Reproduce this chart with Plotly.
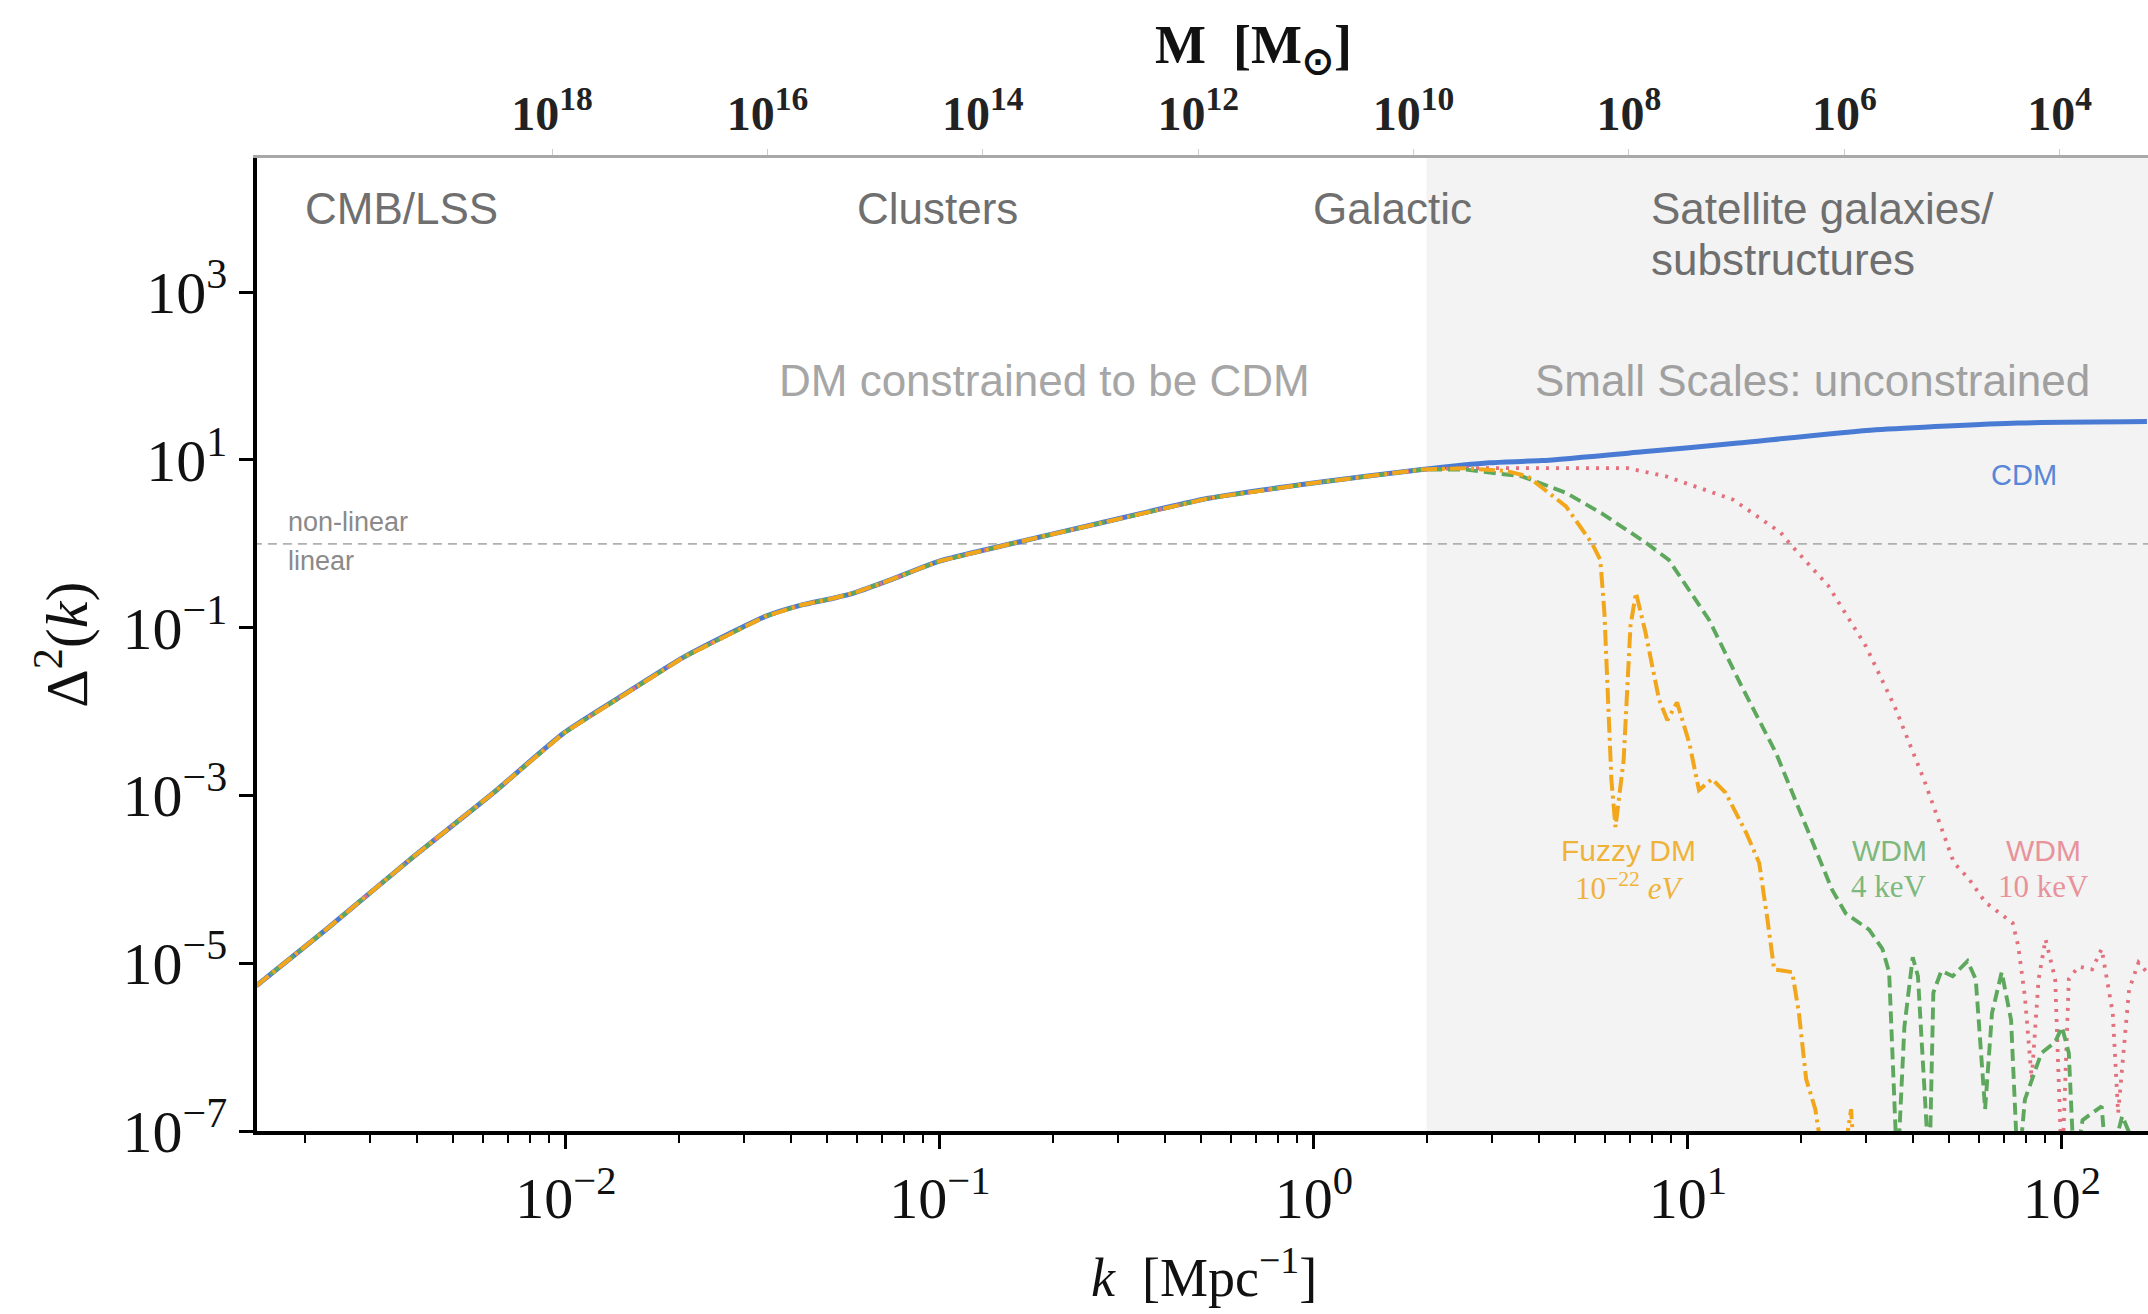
import numpy as np
import plotly.graph_objects as go

# ---------------- data ----------------
# shared large-scale part of all four spectra
k_common = [0.001486, 0.002306, 0.00382, 0.00634, 0.00991, 0.01473, 0.02065, 0.0343,
            0.0423, 0.0522, 0.0593, 0.0731, 0.0991, 0.156, 0.2594, 0.522, 0.984, 1.946]
d2_common = [5.38e-6, 2.61e-5, 1.71e-4, 1.04e-3, 5.63e-3, 0.0174, 0.0446, 0.1377,
             0.185, 0.226, 0.262, 0.366, 0.619, 1.01, 1.71, 3.49, 5.27, 7.69]

k_cdm = [2.94, 4.06, 7.57, 13.2, 31.8, 76.4, 168.7]
d2_cdm = [9.27, 9.83, 12.5, 15.7, 22.9, 27.6, 28.7]

k_fuzzy = [2.53, 3.26, 3.73, 4.72, 5.54, 5.83, 5.98, 6.13, 6.24, 6.40, 6.73, 7.02, 7.26,
           7.70, 8.37, 8.81, 9.35, 10.09, 10.7, 11.6, 12.6, 14.3, 15.5, 16.3, 17.0, 18.0,
           19.0, 19.8, 20.7, 21.9, 22.9, 25.7, 26.8, 27.3, 28.0]
d2_fuzzy = [7.98, 7.40, 6.37, 2.79, 1.01, 0.643, 0.148, 9.5e-3, 1.57e-3, 4.2e-4, 2.65e-3,
            0.106, 0.261, 0.0877, 0.0139, 7.9e-3, 0.0129, 4.17e-3, 1.16e-3, 1.57e-3,
            1.08e-3, 3.62e-4, 1.58e-4, 3.4e-5, 8.45e-6, 8.13e-6, 7.83e-6, 2.54e-6,
            4.17e-7, 1.82e-7, 5e-8, 3e-8, 1e-7, 1.82e-7, 3e-8]

k_wdm4 = [2.53, 3.60, 4.72, 5.88, 7.77, 8.89, 11.4, 13.9, 17.2, 20.7, 24.3, 26.4, 30.5,
          33.1, 34.5, 36.3, 37.9, 39.9, 41.2, 44.2, 45.3, 47.6, 51.0, 55.9, 58.8, 62.3,
          65.0, 69.0, 73.1, 76.3, 79.6, 88.1, 95.9, 100.0, 104.3, 107.9, 113.5, 127.7,
          132.1, 144.9, 168.7]
d2_wdm4 = [7.69, 6.37, 4.06, 2.31, 1.01, 0.643, 0.123, 0.0202, 3.2e-3, 4.37e-4, 7.47e-5,
           3.94e-5, 2.51e-5, 1.48e-5, 7.83e-6, 3e-8, 1.74e-6, 1.18e-5, 7.0e-6, 3e-8,
           4.46e-6, 8.13e-6, 7.0e-6, 1.06e-5, 6.48e-6, 1.82e-7, 2.54e-6, 7.83e-6, 2.1e-6,
           3e-8, 2.38e-7, 8.5e-7, 1.15e-6, 1.74e-6, 8.5e-7, 3e-8, 1.35e-7, 1.97e-7, 3e-8,
           1.51e-7, 3e-8]

k_wdm10 = [2.53, 3.73, 6.90, 8.74, 13.2, 17.7, 18.7, 23.7, 29.9, 35.7, 42.7, 51.4, 56.4,
           62.4, 73.8, 76.4, 79.6, 83.0, 86.6, 90.4, 95.9, 100.0, 104.3, 110.7, 120.4,
           127.7, 136.7, 141.3, 151.1, 160.2, 168.7]
d2_wdm10 = [7.98, 7.98, 7.98, 6.37, 3.37, 1.36, 1.01, 0.318, 0.0603, 0.0115, 1.57e-3,
            1.58e-4, 1.01e-4, 5.33e-5, 3.03e-5, 1.6e-5, 3.98e-6, 4.17e-7, 6.48e-6,
            1.93e-5, 6.48e-6, 3e-8, 6.48e-6, 9.1e-6, 8.45e-6, 1.48e-5, 2.54e-6, 1.63e-7,
            4.81e-6, 1.02e-5, 7.83e-6]

k_unconstrained = 2.0          # start of the shaded "small scales" band
d2_nonlinear = 1.0             # linear / non-linear boundary

x_ticks = [1e-2, 1e-1, 1e0, 1e1, 1e2]
x_ticktext = ["10<sup>−2</sup>", "10<sup>−1</sup>", "10<sup>0</sup>", "10<sup>1</sup>", "10<sup>2</sup>"]
y_ticks = [1e-7, 1e-5, 1e-3, 1e-1, 1e1, 1e3]
y_ticktext = ["10<sup>−7</sup>", "10<sup>−5</sup>", "10<sup>−3</sup>", "10<sup>−1</sup>",
              "10<sup>1</sup>", "10<sup>3</sup>"]
m_ticks = [1e18, 1e16, 1e14, 1e12, 1e10, 1e8, 1e6, 1e4]
m_ticktext = ["<b>10<sup>18</sup></b>", "<b>10<sup>16</sup></b>", "<b>10<sup>14</sup></b>",
              "<b>10<sup>12</sup></b>", "<b>10<sup>10</sup></b>", "<b>10<sup>8</sup></b>",
              "<b>10<sup>6</sup></b>", "<b>10<sup>4</sup></b>"]

# region labels: (text, k_left, delta2, colour)
region_labels = [
    ("CMB/LSS", 0.00198, 1.0e4, "#6f6f6f"),
    ("Clusters", 0.0593, 1.0e4, "#6f6f6f"),
    ("Galactic", 0.984, 1.0e4, "#6f6f6f"),
    ("Satellite galaxies/", 7.89, 1.0e4, "#6f6f6f"),
    ("substructures", 7.89, 2.48e3, "#6f6f6f"),
    ("DM constrained to be CDM", 0.0366, 89.0, "#a6a6a6"),
    ("Small Scales: unconstrained", 3.86, 89.0, "#a0a0a0"),
]

# ---------------- figure ----------------
SERIF = "Liberation Serif"
SANS = "Liberation Sans"

fig = go.Figure()

k_lo, k_hi = 10 ** -2.826, 10 ** 2.230

# shaded band
fig.add_trace(go.Scatter(x=[k_unconstrained, 1e4, 1e4, k_unconstrained],
                         y=[1e-12, 1e-12, 1e8, 1e8], fill="toself",
                         fillcolor="#F3F3F3", line=dict(width=0), mode="lines",
                         hoverinfo="skip", showlegend=False))
# linear / non-linear boundary
fig.add_trace(go.Scatter(x=[1e-4, 1e4], y=[d2_nonlinear, d2_nonlinear], mode="lines",
                         line=dict(color="#b0b0b0", width=1.6, dash="9px,6px"),
                         hoverinfo="skip", showlegend=False))

fig.add_trace(go.Scatter(x=k_common + k_cdm, y=d2_common + d2_cdm, mode="lines",
                         line=dict(color="#4A7BD4", width=5, shape="spline", smoothing=0.6),
                         name="CDM", showlegend=False))
fig.add_trace(go.Scatter(x=k_common + k_wdm10, y=d2_common + d2_wdm10, mode="lines",
                         line=dict(color="#E3707C", width=3.8, dash="3px,7px"),
                         name="WDM 10 keV", showlegend=False))
fig.add_trace(go.Scatter(x=k_common + k_wdm4, y=d2_common + d2_wdm4, mode="lines",
                         line=dict(color="#5EA85E", width=3.9, dash="12px,6px"),
                         name="WDM 4 keV", showlegend=False))
fig.add_trace(go.Scatter(x=k_common + k_fuzzy, y=d2_common + d2_fuzzy, mode="lines",
                         line=dict(color="#F2A61C", width=4.0, dash="16px,5px,3px,5px"),
                         name="Fuzzy DM", showlegend=False))

# dummy trace to carry the top mass axis
fig.add_trace(go.Scatter(x=[1e10], y=[1e-12], xaxis="x2", mode="lines",
                         hoverinfo="skip", showlegend=False))

minor_k = [m * 10.0 ** d for d in range(-3, 3) for m in range(2, 10)
           if k_lo <= m * 10.0 ** d <= k_hi]

fig.update_layout(
    width=2148, height=1314,
    margin=dict(l=257, r=0, t=158, b=183),
    paper_bgcolor="white", plot_bgcolor="white",
    showlegend=False,
    xaxis=dict(type="log", range=[np.log10(k_lo), np.log10(k_hi)],
               tickvals=x_ticks, ticktext=x_ticktext,
               tickfont=dict(family=SERIF, size=58, color="#111"),
               ticks="outside", ticklen=14, tickwidth=2.5, tickcolor="black",
               minor=dict(tickvals=minor_k, ticks="outside", ticklen=8, tickwidth=1.6,
                          tickcolor="black", showgrid=False),
               showline=True, linecolor="black", linewidth=3.5,
               showgrid=False, zeroline=False, mirror=False),
    yaxis=dict(type="log", range=[-7, 4.6],
               tickvals=y_ticks, ticktext=y_ticktext,
               tickfont=dict(family=SERIF, size=60, color="#111"),
               ticks="outside", ticklen=14, tickwidth=2.5, tickcolor="black",
               showline=True, linecolor="black", linewidth=3.5,
               showgrid=False, zeroline=False, mirror=False),
    xaxis2=dict(type="log", overlaying="x", side="top", anchor="y",
                range=[20.74, 3.18],
                tickvals=m_ticks, ticktext=m_ticktext,
                tickfont=dict(family=SERIF, size=48, color="#222"),
                ticks="outside", ticklen=6, tickwidth=1, tickcolor="#cccccc",
                showline=True, linecolor="#a8a8a8", linewidth=3,
                showgrid=False, zeroline=False),
)

ann = []
for text, kx, yy, col in region_labels:
    ann.append(dict(x=np.log10(kx), y=np.log10(yy), xref="x", yref="y", text=text,
                    showarrow=False, xanchor="left", yanchor="middle",
                    font=dict(family=SANS, size=44, color=col)))

# linear / non-linear labels
ann.append(dict(x=np.log10(0.00179), y=np.log10(1.84), xref="x", yref="y", text="non-linear",
                showarrow=False, xanchor="left", yanchor="middle",
                font=dict(family=SANS, size=27, color="#8a8a8a")))
ann.append(dict(x=np.log10(0.00179), y=np.log10(0.62), xref="x", yref="y", text="linear",
                showarrow=False, xanchor="left", yanchor="middle",
                font=dict(family=SANS, size=27, color="#8a8a8a")))

# curve labels: (line1, line2, k_center, colour)
curve_labels = [
    ("Fuzzy DM", "10<sup>−22</sup> <i>eV</i>", 6.95, "#F0B33A"),
    ("WDM", "4 keV", 34.5, "#7DB87D"),
    ("WDM", "10 keV", 89.5, "#E8939B"),
]
for l1, l2, kc, col in curve_labels:
    ann.append(dict(x=np.log10(kc), y=-3.65, xref="x", yref="y", text=l1, showarrow=False,
                    xanchor="center", yanchor="middle",
                    font=dict(family=SANS, size=30, color=col)))
    ann.append(dict(x=np.log10(kc), y=-4.09, xref="x", yref="y", text=l2, showarrow=False,
                    xanchor="center", yanchor="middle",
                    font=dict(family=SERIF, size=31, color=col)))

ann.append(dict(x=np.log10(79.0), y=np.log10(6.6), xref="x", yref="y", text="CDM",
                showarrow=False, xanchor="center", yanchor="middle",
                font=dict(family=SANS, size=29, color="#5A86D8")))

# axis titles
ann.append(dict(x=-0.103, y=0.5, xref="paper", yref="paper", text="Δ<sup>2</sup>(<i>k</i>)",
                textangle=-90, showarrow=False, xanchor="center", yanchor="middle",
                font=dict(family=SERIF, size=60, color="#111")))
ann.append(dict(x=0.501, y=-0.146, xref="paper", yref="paper",
                text="<i>k</i>  [Mpc<sup>−1</sup>]", showarrow=False,
                xanchor="center", yanchor="middle",
                font=dict(family=SERIF, size=54, color="#111")))
ann.append(dict(x=0.527, y=1.113, xref="paper", yref="paper",
                text="<b>M  [M<sub>⊙</sub>]</b>", showarrow=False,
                xanchor="center", yanchor="middle",
                font=dict(family=SERIF, size=54, color="#111")))

fig.update_layout(annotations=ann)
fig.write_html("out.html")
